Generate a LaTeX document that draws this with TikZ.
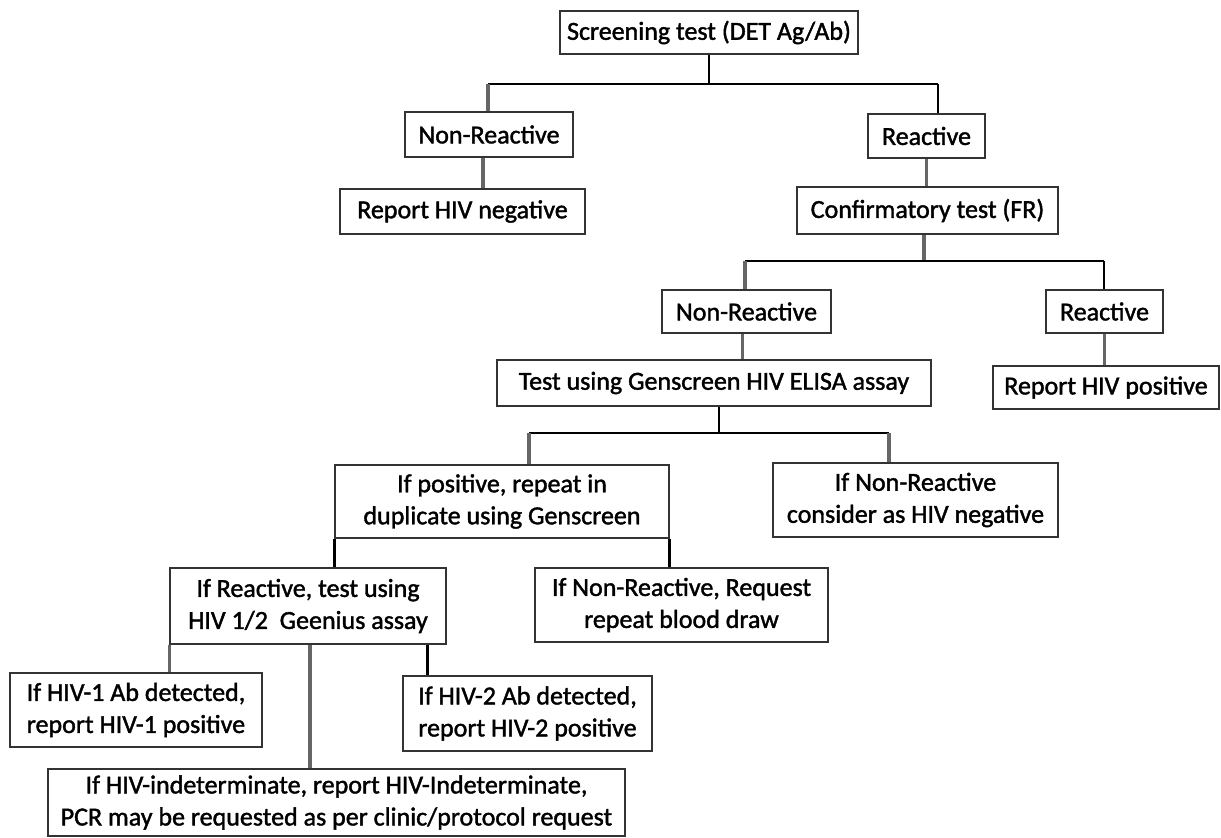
\documentclass[tikz,border=0pt]{standalone}
\usepackage{fontspec}
\newfontfamily\boxfont{Carlito}[FakeBold=1.5]
\begin{document}
\begin{tikzpicture}[x=1pt,y=1pt,
  box/.style={draw=black!80, line width=1.5pt, inner sep=0pt, align=center,
    font=\boxfont\fontsize{26}{32}\selectfont},
  blk/.style={draw=black, line width=2.7pt},
  gry/.style={draw=black!60, line width=3.3pt}]
\useasboundingbox[fill=white] (0,0) rectangle (1221,-838);
% nodes
\node[box, minimum width=298, minimum height=43] (scr) at (709,-32.5) {Screening test (DET Ag/Ab)};
\node[box, minimum width=168, minimum height=45] (nr1) at (489,-134.5) {Non-Reactive};
\node[box, minimum width=117, minimum height=44] (r1) at (926.5,-136) {Reactive};
\node[box, minimum width=245, minimum height=45] (neg) at (462.5,-211.5) {Report HIV negative};
\node[box, minimum width=261, minimum height=47] (conf) at (927.5,-210.5) {Confirmatory test (FR)};
\node[box, minimum width=169, minimum height=43] (nr2) at (746.5,-311.5) {Non-Reactive};
\node[box, minimum width=117, minimum height=43] (r2) at (1104.5,-311.5) {Reactive};
\node[box, minimum width=434, minimum height=46] (gen) at (714,-383) {Test using Genscreen HIV ELISA assay};
\node[box, minimum width=226, minimum height=43] (pos) at (1106,-387.5) {Report HIV positive};
\node[box, minimum width=334, minimum height=73] (ifpos) at (502,-501.5) {If positive, repeat in\\duplicate using Genscreen};
\node[box, minimum width=285, minimum height=74] (ifnr) at (915.5,-500) {If Non-Reactive\\consider as HIV negative};
\node[box, minimum width=276, minimum height=76] (ifr) at (308,-606) {If Reactive, test using\\HIV 1/2\ \ Geenius assay};
\node[box, minimum width=293, minimum height=74] (req) at (681.5,-605) {If Non-Reactive, Request\\repeat blood draw};
\node[box, minimum width=252, minimum height=74] (hiv1) at (136,-710) {If HIV-1 Ab detected,\\report HIV-1 positive};
\node[box, minimum width=249, minimum height=75] (hiv2) at (527.5,-713.5) {If HIV-2 Ab detected,\\report HIV-2 positive};
\node[box, minimum width=577, minimum height=67] (ind) at (336.5,-802.5) {If HIV-indeterminate, report HIV-Indeterminate,\\PCR may be requested as per clinic/protocol request};
% bar coordinates
\coordinate (b1L) at (488,-84);
\coordinate (b1R) at (938,-84);
\coordinate (b2L) at (745,-261);
\coordinate (b2R) at (1104,-261);
\coordinate (b3L) at (529,-433);
\coordinate (b3R) at (889,-433);
% connectors level 1
\draw[blk] (scr.south) -- (scr.south |- b1L);
\draw[blk] (b1L) -- (b1R);
\draw[gry] (b1L) -- (b1L |- nr1.north);
\draw[blk] (b1R) -- (b1R |- r1.north);
\draw[gry] ([xshift=-6pt]nr1.south) -- ([xshift=-6pt]nr1.south |- neg.north);
\draw[gry] (r1.south) -- (r1.south |- conf.north);
% level 2
\draw[gry] ([xshift=-3.5pt]conf.south) -- ([xshift=-3.5pt]conf.south |- b2L);
\draw[blk] (b2L) -- (b2R);
\draw[gry] (b2L) -- (b2L |- nr2.north);
\draw[blk] (b2R) -- (b2R |- r2.north);
\draw[gry] ([xshift=-4pt]nr2.south) -- ([xshift=-4pt]nr2.south |- gen.north);
\draw[gry] (r2.south) -- (r2.south |- pos.north);
% level 3
\draw[blk] ([xshift=5pt]gen.south) -- ([xshift=5pt]gen.south |- b3L);
\draw[blk] (b3L) -- (b3R);
\draw[gry] (b3L) -- (b3L |- ifpos.north);
\draw[gry] (b3R) -- (b3R |- ifnr.north);
% level 4
\draw[blk] (ifpos.south west) -- (ifpos.south west |- ifr.north);
\draw[blk] (ifpos.south east) -- (ifpos.south east |- req.north);
% level 5
\draw[gry] (ifr.south west) -- (ifr.south west |- hiv1.north);
\draw[gry] ([xshift=2pt]ifr.south) -- ([xshift=2pt]ifr.south |- ind.north);
\draw[blk] ([xshift=-19pt]ifr.south east) -- ([xshift=-19pt]ifr.south east |- hiv2.north);
\end{tikzpicture}
\end{document}
